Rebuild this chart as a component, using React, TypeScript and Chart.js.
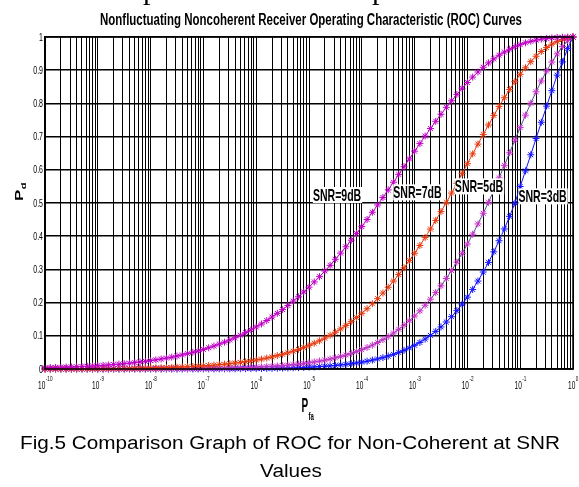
import React, { useEffect, useRef } from "react";
import { Chart, registerables } from "chart.js";

Chart.register(...registerables);

// ---------------- data ----------------
const pfaExponents = [-10,-9.9,-9.8,-9.7,-9.6,-9.5,-9.4,-9.3,-9.2,-9.1,-9,-8.9,-8.8,-8.7,-8.6,-8.5,-8.4,-8.3,-8.2,-8.1,-8,-7.9,-7.8,-7.7,-7.6,-7.5,-7.4,-7.3,-7.2,-7.1,-7,-6.9,-6.8,-6.7,-6.6,-6.5,-6.4,-6.3,-6.2,-6.1,-6,-5.9,-5.8,-5.7,-5.6,-5.5,-5.4,-5.3,-5.2,-5.1,-5,-4.9,-4.8,-4.7,-4.6,-4.5,-4.4,-4.3,-4.2,-4.1,-4,-3.9,-3.8,-3.7,-3.6,-3.5,-3.4,-3.3,-3.2,-3.1,-3,-2.9,-2.8,-2.7,-2.6,-2.5,-2.4,-2.3,-2.2,-2.1,-2,-1.9,-1.8,-1.7,-1.6,-1.5,-1.4,-1.3,-1.2,-1.1,-1,-0.9,-0.8,-0.7,-0.6,-0.5,-0.4,-0.3,-0.2,-0.1,0];

const pd9dB = [0.0038,0.0042,0.0046,0.0051,0.0057,0.0062,0.0069,0.0076,0.0083,0.0092,
0.0101,0.0111,0.0122,0.0134,0.0147,0.0161,0.0176,0.0194,0.0212,0.0231,
0.0253,0.0276,0.0301,0.0329,0.0357,0.039,0.0424,0.0461,0.0502,0.0543,
0.059,0.0639,0.0692,0.0749,0.0808,0.0875,0.0942,0.1017,0.1096,0.1178,
0.1266,0.1357,0.1461,0.1564,0.1676,0.179,0.1913,0.2044,0.2176,0.2321,
0.2465,0.2623,0.2781,0.2952,0.3121,0.3305,0.3491,0.3682,0.3879,0.4083,
0.429,0.4503,0.4721,0.494,0.5166,0.5396,0.5627,0.5862,0.6094,0.6329,
0.6561,0.6789,0.7018,0.7243,0.7461,0.7673,0.7881,0.8078,0.8271,0.8454,
0.8629,0.8793,0.8946,0.9088,0.9219,0.934,0.945,0.9545,0.9631,0.9706,
0.977,0.9825,0.987,0.9906,0.9936,0.9957,0.9974,0.9985,0.9993,0.9997,
1];

const pd7dB = [0.0003,0.0003,0.0004,0.0004,0.0005,0.0005,0.0006,0.0007,0.0007,0.0008,
0.0009,0.0011,0.0012,0.0013,0.0015,0.0017,0.0019,0.0022,0.0024,0.0027,
0.0031,0.0034,0.0039,0.0044,0.0049,0.0055,0.0061,0.0068,0.0076,0.0085,
0.0095,0.0105,0.0117,0.013,0.0145,0.0162,0.0179,0.02,0.0221,0.0245,
0.027,0.0298,0.033,0.0363,0.0403,0.0442,0.0488,0.0536,0.0589,0.0646,
0.0709,0.0777,0.085,0.093,0.1014,0.1107,0.1207,0.1312,0.1426,0.1548,
0.1678,0.1816,0.1966,0.2119,0.2288,0.2462,0.2649,0.2846,0.3047,0.3266,
0.3487,0.372,0.3964,0.4215,0.4476,0.4741,0.5012,0.5299,0.5592,0.5886,
0.6183,0.6479,0.6774,0.7065,0.7351,0.7637,0.7909,0.8172,0.842,0.8655,
0.8875,0.9072,0.9258,0.942,0.9563,0.9683,0.9783,0.9864,0.9924,0.997,
1];

const pd5dB = [0.00002,0.00003,0.00003,0.00004,0.00004,0.00005,0.00006,0.00007,0.00008,0.00009,
0.0001,0.00012,0.00013,0.00015,0.00018,0.0002,0.00023,0.00027,0.00031,0.00035,
0.0004,0.00046,0.00053,0.00061,0.0007,0.0008,0.00091,0.00104,0.0012,0.00136,
0.00155,0.00177,0.002,0.0023,0.0026,0.003,0.0034,0.0039,0.0044,0.005,
0.0056,0.0063,0.0072,0.0081,0.0093,0.0104,0.0118,0.0133,0.0149,0.0169,
0.0189,0.0213,0.0239,0.0268,0.0299,0.0336,0.0376,0.042,0.0468,0.0523,
0.0582,0.0646,0.072,0.0797,0.0885,0.0977,0.1083,0.1196,0.1318,0.1454,
0.1595,0.1752,0.1922,0.2102,0.23,0.2507,0.2727,0.2965,0.3219,0.3484,
0.3765,0.406,0.4369,0.469,0.5021,0.5386,0.5757,0.6133,0.6513,0.6897,
0.7273,0.7646,0.8006,0.835,0.8676,0.8975,0.9245,0.949,0.971,0.989,
1];

const pd3dB = [0.000003,0.000003,0.000004,0.000004,0.000005,0.000006,0.000007,0.000008,0.000009,0.00001,
0.000014,0.000016,0.000019,0.000023,0.000026,0.00003,0.000036,0.000042,0.000049,0.000057,
0.00007,0.00008,0.00009,0.00011,0.00012,0.00014,0.00017,0.00019,0.00023,0.00026,
0.0003,0.00035,0.00041,0.00047,0.00055,0.00064,0.00074,0.00086,0.00099,0.00114,
0.00132,0.00152,0.00176,0.00203,0.00234,0.0027,0.0031,0.0036,0.0041,0.0047,
0.0054,0.0062,0.0072,0.0082,0.0094,0.0107,0.0123,0.0139,0.016,0.0181,
0.0207,0.0235,0.0268,0.0303,0.0343,0.0389,0.044,0.0499,0.0561,0.0634,
0.0714,0.0801,0.0902,0.1012,0.1133,0.1268,0.1415,0.1576,0.1757,0.1952,
0.2164,0.2396,0.2649,0.2921,0.3211,0.3529,0.3863,0.4219,0.4598,0.4996,
0.5497,0.5967,0.6453,0.6942,0.7431,0.7917,0.8383,0.885,0.925,0.965,
1];

const seriesLabels = ["SNR=9dB", "SNR=7dB", "SNR=5dB", "SNR=3dB"];
// label anchor (Pfa, Pd) of each series label, centre of text
const labelPfa = [3.4e-5, 1.13e-3, 1.66e-2, 2.65e-1];
const labelPd = [0.524, 0.532, 0.55, 0.52];

const xDecadeExponents = [-10,-9,-8,-7,-6,-5,-4,-3,-2,-1,0];
const minorMultipliers = [1,2,3,4,5,6,7,8,9];
const yTickValues = [0,0.1,0.2,0.3,0.4,0.5,0.6,0.7,0.8,0.9,1];

const titleText = "Nonfluctuating Noncoherent Receiver Operating Characteristic (ROC) Curves";
const xTitleMain = "P";
const xTitleSub = "fa";
const yTitleMain = "P";
const yTitleSub = "d";
const captionLine1 = "Fig.5 Comparison Graph of ROC for Non-Coherent at SNR";
const captionLine2 = "Values";
const clippedAbove = ["p", "p"];

// ---------------- styles ----------------
const W = 579;
const H = 487;
const FONT = '"Liberation Sans", Arial, sans-serif';
const lineColors = ["#c000c8", "#e83a10", "#50508c", "#1414ff"];
const markerColors = ["#c000c8", "#e83a10", "#cc30cc", "#1414ff"];

function drawText(ctx: CanvasRenderingContext2D, s: string, x: number, y: number, font: string, align: CanvasTextAlign, sx: number, baseline: CanvasTextBaseline = "alphabetic") {
  ctx.save();
  ctx.translate(x, y);
  ctx.scale(sx, 1);
  ctx.font = font;
  ctx.textAlign = align;
  ctx.textBaseline = baseline;
  ctx.fillStyle = "#000";
  ctx.fillText(s, 0, 0);
  ctx.restore();
}

function textW(ctx: CanvasRenderingContext2D, s: string, font: string) {
  ctx.save();
  ctx.font = font;
  const w = ctx.measureText(s).width;
  ctx.restore();
  return w;
}

export default function App() {
  const ref = useRef<HTMLCanvasElement>(null);

  useEffect(() => {
    document.body.style.margin = "0";
    const canvas = ref.current!;
    const toPoints = (ys: number[]) => pfaExponents.map((e, i) => ({ x: Math.pow(10, e), y: ys[i] }));
    const seriesValues = [pd9dB, pd7dB, pd5dB, pd3dB];

    const xTickValues: number[] = [];
    xDecadeExponents.forEach((e) => {
      if (e === 0) { xTickValues.push(1); return; }
      minorMultipliers.forEach((m) => xTickValues.push(m * Math.pow(10, e)));
    });

    const decor = {
      id: "decor",
      beforeDraw(chart: any) {
        const ctx = chart.ctx as CanvasRenderingContext2D;
        ctx.save();
        ctx.fillStyle = "#fff";
        ctx.fillRect(0, 0, W, H);
        ctx.restore();
      },
      afterDatasetsDraw(chart: any) {
        const ctx = chart.ctx as CanvasRenderingContext2D;
        const xs = chart.scales.x;
        const ys = chart.scales.y;
        const f = "bold 17px " + FONT;
        const sx = 0.62;
        seriesLabels.forEach((lab, i) => {
          const cx = xs.getPixelForValue(labelPfa[i]);
          const cy = ys.getPixelForValue(labelPd[i]);
          const w = textW(ctx, lab, f) * sx;
          ctx.save();
          ctx.fillStyle = "#fff";
          ctx.fillRect(cx - w / 2, cy - 8, w + 1, 16);
          ctx.restore();
          drawText(ctx, lab, cx, cy + 6, f, "center", sx);
        });
      },
      afterDraw(chart: any) {
        const ctx = chart.ctx as CanvasRenderingContext2D;
        const a = chart.chartArea;
        const xs = chart.scales.x;
        const ys = chart.scales.y;
        // box
        ctx.save();
        ctx.strokeStyle = "#000";
        ctx.lineWidth = 1.5;
        ctx.strokeRect(a.left, a.top, a.right - a.left, a.bottom - a.top);
        ctx.restore();
        // y tick labels
        yTickValues.forEach((v) => {
          const s = v === 0 ? "0" : v === 1 ? "1" : v.toFixed(1);
          drawText(ctx, s, a.left - 2, ys.getPixelForValue(v) + 3.5, "10px " + FONT, "right", 0.7);
        });
        // x tick labels 10^e
        const fb = "10.5px " + FONT;
        const fe = "7.5px " + FONT;
        const sxl = 0.62;
        xDecadeExponents.forEach((e) => {
          const px = xs.getPixelForValue(Math.pow(10, e));
          const w1 = textW(ctx, "10", fb) * sxl;
          const w2 = textW(ctx, String(e), fe) * sxl;
          const start = px - (w1 + w2) / 2;
          drawText(ctx, "10", start, 388.5, fb, "left", sxl);
          drawText(ctx, String(e), start + w1 + 0.5, 380.5, fe, "left", sxl);
        });
        // x title
        drawText(ctx, xTitleMain, 301.5, 412, "bold 20px " + FONT, "left", 0.5);
        drawText(ctx, xTitleSub, 308.5, 420, "bold 11px " + FONT, "left", 0.55);
        // y title (rotated)
        ctx.save();
        ctx.translate(23, 201);
        ctx.scale(0.6, 1);
        ctx.rotate(-Math.PI / 2);
        ctx.font = "bold 17px " + FONT;
        ctx.fillStyle = "#000";
        ctx.textAlign = "left";
        ctx.textBaseline = "alphabetic";
        ctx.fillText(yTitleMain, 0, 0);
        const pw = ctx.measureText(yTitleMain).width;
        ctx.font = "bold 11px " + FONT;
        ctx.fillText(yTitleSub, pw + 0.5, 5);
        ctx.restore();
        // title
        const tf = "bold 16px " + FONT;
        const tw = textW(ctx, titleText, tf);
        drawText(ctx, titleText, 100, 24.5, tf, "left", 422 / tw);
        // caption
        const cf = "18px " + FONT;
        const cw = textW(ctx, captionLine1, cf);
        drawText(ctx, captionLine1, 20, 449, cf, "left", 540 / cw);
        drawText(ctx, captionLine2, 291, 477, cf, "center", 540 / cw);
        // fragments of the text line above the figure (only descenders visible)
        drawText(ctx, clippedAbove[0], 143, -1, '30px "Liberation Serif", serif', "left", 1);
        drawText(ctx, clippedAbove[1], 372, -1, '30px "Liberation Serif", serif', "left", 1);
      },
    };

    const chart = new Chart(canvas, {
      type: "line",
      data: {
        datasets: seriesValues.map((vals, i) => ({
          label: seriesLabels[i],
          data: toPoints(vals),
          borderColor: lineColors[i],
          borderWidth: 1,
          pointStyle: "star",
          pointRadius: 3.5,
          pointBorderColor: markerColors[i],
          pointBackgroundColor: markerColors[i],
          pointBorderWidth: 1,
          tension: 0,
          fill: false,
          clip: false as any,
        })),
      },
      options: {
        responsive: false,
        animation: false,
        devicePixelRatio: 1,
        events: [],
        layout: { padding: { left: 0, right: 6, top: 37, bottom: 118 } },
        plugins: { legend: { display: false }, tooltip: { enabled: false }, title: { display: false } },
        scales: {
          x: {
            type: "logarithmic",
            min: 1e-10,
            max: 1,
            ticks: { display: false, autoSkip: false },
            grid: { color: "#000", lineWidth: 1, drawTicks: false },
            border: { display: true, color: "#000", width: 1.5 },
            afterBuildTicks: (s: any) => { s.ticks = xTickValues.map((v) => ({ value: v })); },
            afterFit: (s: any) => { s.height = 0; },
          },
          y: {
            type: "linear",
            min: 0,
            max: 1,
            ticks: { display: false, stepSize: 0.1 },
            grid: { color: "#000", lineWidth: 1.6, drawTicks: false },
            border: { display: true, color: "#000", width: 1.5 },
            afterFit: (s: any) => { s.width = 45; },
          },
        },
      } as any,
      plugins: [decor],
    });
    return () => chart.destroy();
  }, []);

  return <canvas ref={ref} width={W} height={H} style={{ display: "block" }} />;
}
